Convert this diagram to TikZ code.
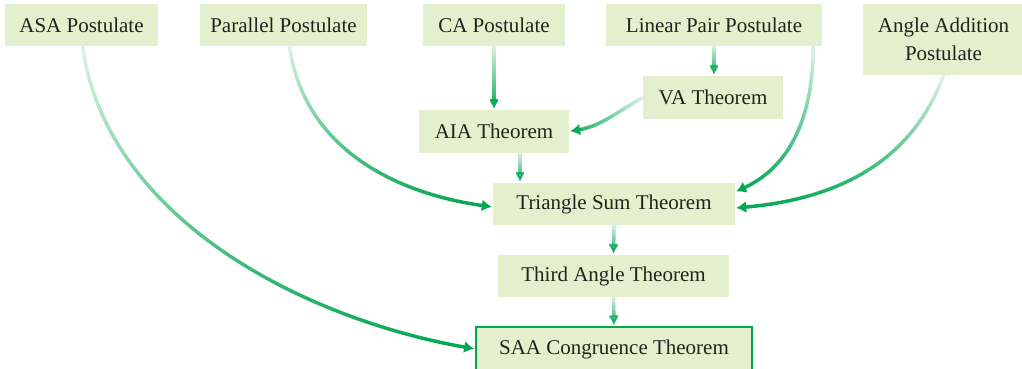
\documentclass[tikz,border=0pt]{standalone}
\usepackage{fontspec}
\setmainfont{Liberation Serif}
\usepackage{tikz}
\usetikzlibrary{arrows.meta,fadings}

\definecolor{boxfill}{RGB}{227,239,205}
\definecolor{linkgreen}{RGB}{0,166,81}
\definecolor{inkgray}{RGB}{35,35,30}
\tikzfading[name=fadedown, top color=transparent!88, bottom color=transparent!0]
\tikzfading[name=fadeleft, right color=transparent!88, left color=transparent!0]

\begin{document}
\begin{tikzpicture}[x=1pt,y=1pt,
    stmt/.style={fill=boxfill, text=inkgray, minimum height=42pt, inner sep=0pt,
      font=\fontsize{21}{28}\selectfont},
    link/.style={draw=linkgreen, line width=3.5pt, -{Latex[length=10pt,width=12pt]},
      shorten >=1pt, path fading=fadedown},
  ]
    \useasboundingbox (0,0) rectangle (1022,-369);
    % postulates along the top
    \node[stmt, minimum width=153pt] (asa) at (81.5,-25) {ASA Postulate};
    \node[stmt, minimum width=167pt] (par) at (283.5,-25) {Parallel Postulate};
    \node[stmt, minimum width=142pt] (ca) at (494,-25) {CA Postulate};
    \node[stmt, minimum width=216pt] (lpp) at (714,-25) {Linear Pair Postulate};
    \node[stmt, minimum width=161pt, minimum height=71pt, align=center] (aap)
      at (943.5,-39.5) {Angle Addition\\Postulate};
    % theorems
    \node[stmt, minimum width=140pt, minimum height=43pt] (va) at (713,-97.5) {VA Theorem};
    \node[stmt, minimum width=150pt, minimum height=43pt] (aia) at (494,-131.5) {AIA Theorem};
    \node[stmt, minimum width=242pt] (tri) at (614,-204) {Triangle Sum Theorem};
    \node[stmt, minimum width=231pt] (third) at (613.5,-276) {Third Angle Theorem};
    \node[stmt, minimum width=276pt, minimum height=44pt, draw=linkgreen, line width=1.5pt]
      (saa) at (614,-349) {SAA Congruence Theorem};

    % straight links
    \draw[link] (ca.south) -- (aia.north);
    \draw[link] (lpp.south) -- (lpp.south |- va.north);
    \draw[link] ([xshift=26pt]aia.south) -- ([xshift=26pt]aia.south |- tri.north);
    \draw[link] (tri.south) -- (third.north);
    \draw[link] (third.south) -- (saa.north);
    % curved links
    \draw[link, path fading=fadeleft] (va.west) to[out=210,in=10] (aia.east);
    \draw[link] ([xshift=6pt]par.south) to[out=-82,in=172] ([yshift=-3pt]tri.west);
    \draw[link] ([xshift=-9pt]lpp.south east) to[out=-90,in=25] ([yshift=12pt]tri.east);
    \draw[link] (aap.south) to[out=-110,in=5] ([yshift=-4pt]tri.east);
    \draw[link] ([xshift=1pt]asa.south) to[out=-82,in=170,looseness=0.9] (saa.west);
\end{tikzpicture}
\end{document}
